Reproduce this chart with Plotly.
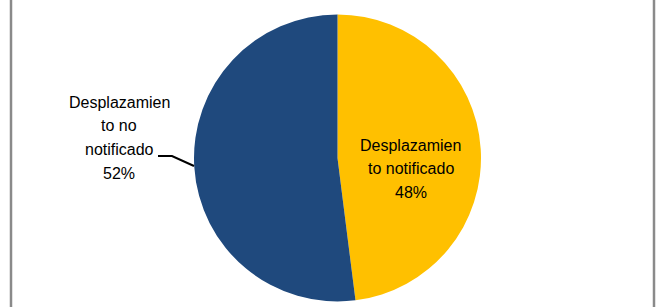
import plotly.graph_objects as go

labels = ["Desplazamiento notificado", "Desplazamiento no notificado"]
values = [48, 52]
colors = ["#FFC000", "#1F497D"]
label_lines_right = ["Desplazamien", "to notificado", "48%"]
label_lines_left = ["Desplazamien", "to no", "notificado", "52%"]

W, H = 656, 307

fig = go.Figure(go.Pie(
    labels=labels,
    values=values,
    sort=False,
    direction="clockwise",
    rotation=0,
    marker=dict(colors=colors, line=dict(width=0)),
    textinfo="none",
    hoverinfo="label+percent",
    showlegend=False,
    domain=dict(x=[(337.5 - 143.5) / W, (337.5 + 143.5) / W],
                y=[(H - 301.5) / H, (H - 14.5) / H]),
))

font = dict(family="Liberation Sans, Arial, sans-serif", size=16, color="#000000")

def px_x(x):
    return x / W

def px_y(y):
    return (H - y) / H

annotations = []
for i, t in enumerate(label_lines_right):
    annotations.append(dict(text=t, x=px_x(411), y=px_y(145 + i * 23.5), xref="paper", yref="paper",
                            showarrow=False, xanchor="center", yanchor="middle", font=font))
for i, t in enumerate(label_lines_left):
    annotations.append(dict(text=t, x=px_x(119), y=px_y(102 + i * 23.7), xref="paper", yref="paper",
                            showarrow=False, xanchor="center", yanchor="middle", font=font))

shapes = [
    dict(type="path", xref="paper", yref="paper",
         path=f"M {px_x(158)} {px_y(156)} L {px_x(172)} {px_y(156)} L {px_x(194)} {px_y(166)}",
         line=dict(color="#000000", width=2)),
    dict(type="line", xref="paper", yref="paper", x0=px_x(11), x1=px_x(11), y0=-0.1, y1=1.1,
         line=dict(color="#8a8a8a", width=2.5)),
    dict(type="line", xref="paper", yref="paper", x0=px_x(654), x1=px_x(654), y0=-0.1, y1=1.1,
         line=dict(color="#8a8a8a", width=2.5)),
]

fig.update_layout(
    width=W, height=H,
    margin=dict(l=0, r=0, t=0, b=0),
    paper_bgcolor="#ffffff",
    plot_bgcolor="#ffffff",
    annotations=annotations,
    shapes=shapes,
)

fig.write_html("out.html", config={"displayModeBar": False},
               post_script="document.body.style.margin='0';document.body.style.overflow='hidden';")
